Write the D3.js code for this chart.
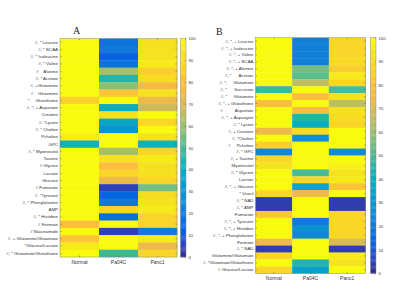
<!DOCTYPE html>
<html>
<head>
<meta charset="utf-8">
<script src="https://cdn.jsdelivr.net/npm/d3@7"></script>
<style>
  body { margin: 0; background: #fff; }
  svg { display: block; }
  .lbl { white-space: pre; }
</style>
</head>
<body>
<div id="chart"></div>
<script>
// 列（细胞系）
const groups = ['Normal', 'Pa04C', 'Panc1'];

// A 面板
const labelsA = [
  '#, * Leucine', '#, * BCAA', '#, * Isoleucine', '#, * Valine', '#    Alanine',
  '#, * Acetate', '#, +Glutamate', '#    Glutamine', '*     Glutathione', '#, *, + Aspartate',
  'Creatine', '#, *Lysine', '#, * Choline', 'Pcholine', 'GPC',
  '#, * Myoinositol', 'Taurine', '# Glycine', 'Lactate', 'Glucose',
  '# Fumarate', '#, *Tyrosine', '#, * Phenylalanine', 'AMP', '#, * Histidine',
  '# Formate', '# Niacinamide', '#, + Glutamine/Glutamate', '*Glucose/Lactate', '#, * Glutamate/Glutathione'
];
const normalA = [100, 100, 100, 100, 100, 100, 100, 100, 86, 100, 100, 100, 100, 96, 42,
  100, 100, 100, 100, 100, 100, 100, 100, 100, 100, 80, 100, 82, 95, 100];
const pa04cA = [18, 20, 13, 18, 62, 45, 58, 82, 100, 40, 92, 38, 27, 100, 100,
  62, 92, 80, 88, 75, 5, 14, 20, 88, 17, 100, 5, 100, 100, 48];
const panc1A = [92, 92, 93, 95, 85, 90, 77, 92, 75, 68, 100, 88, 100, 92, 42,
  88, 95, 92, 92, 87, 55, 90, 93, 95, 87, 87, 20, 95, 75, 88];

// B 面板
const labelsB = [
  '#, *, + Leucine', '#, *, + Isoleucine', '#, *, + Valine', '#, *, + BCAA', '#, *, + Alanine',
  '#, *      Acetate', '#, *,     Glutamate', '#, *      Succinate', '#, *     Glutamine', '#, *, + Glutathione',
  '#          Aspartate', '#, *, + Aspargine', '#, * Lysine', '#, + Creatine', '#, *Choline',
  '#     Pcholine', '#, * GPC', '#, + Taurine', 'Myoinositol', '#, * Glycine',
  'Lactate', '#, *, + Glucose', '* Uracil', '#, * NAD', '#, * AMP',
  'Fumarate', '#, *, + Tyrosine', '#, *, + Histidine', '#, *, + Phenylalanine', 'Formate',
  '#, * NAD', 'Glutamine/Glutamate', '#, *Glutamate/Glutathione', '# Glucose/Lactate'
];
const normalB = [100, 100, 100, 100, 100, 100, 100, 48, 100, 78, 100, 100, 100, 75, 100,
  85, 24, 88, 93, 100, 100, 100, 88, 4, 4, 83, 100, 100, 100, 75, 4, 88, 100, 87];
const pa04cB = [22, 22, 22, 22, 55, 52, 65, 100, 80, 100, 78, 45, 40, 90, 27,
  100, 100, 100, 100, 50, 88, 38, 75, 100, 100, 100, 20, 28, 25, 100, 100, 100, 45, 35];
const panc1B = [87, 88, 88, 90, 85, 95, 88, 50, 92, 65, 92, 90, 88, 100, 100,
  100, 26, 100, 97, 93, 95, 82, 100, 4, 4, 88, 88, 88, 88, 70, 4, 95, 93, 100];

const cbTicks = d3.range(0, 101, 10);

// parula 色标
const parulaStops = ['#352a87', '#2c4ac7', '#0363e1', '#1079da', '#108ed2', '#079ccf',
  '#0aacbe', '#2eb7a4', '#65be86', '#9cbf6f', '#c8bc5d', '#e9b94e', '#fdbe3d',
  '#fad32a', '#f5e41d', '#f9fb0e'];
const parula = d3.piecewise(d3.interpolateRgb, parulaStops);
const color = v => parula(Math.max(0, Math.min(1, v / 100)));

const svg = d3.select('#chart').append('svg')
  .attr('width', 400).attr('height', 300)
  .style('font-family', 'Liberation Sans, Arial, sans-serif');

function panel(o) {
  const rows = o.labels.map((l, i) => ({
    label: l, i, vals: [o.normal[i], o.pa04c[i], o.panc1[i]]
  }));
  const x = d3.scaleBand().domain(groups).range([o.x0, o.x1]);
  const y = d3.scaleBand().domain(d3.range(rows.length)).range([o.y0, o.y1]);

  const g = svg.append('g');

  // 单元格
  rows.forEach(r => {
    g.selectAll(null).data(groups).enter().append('rect')
      .attr('x', d => x(d))
      .attr('y', y(r.i))
      .attr('width', x.bandwidth() + 0.3)
      .attr('height', y.bandwidth() + 0.3)
      .attr('fill', (d, j) => color(r.vals[j]));
  });

  // 边框
  g.append('rect')
    .attr('x', o.x0).attr('y', o.y0)
    .attr('width', o.x1 - o.x0).attr('height', o.y1 - o.y0)
    .attr('fill', 'none').attr('stroke', '#8c8c8c').attr('stroke-width', 0.5);

  // 左轴
  const yAxis = d3.axisLeft(y).tickSize(-1.5).tickPadding(2).tickFormat(i => o.labels[i]);
  const ya = g.append('g').attr('transform', `translate(${o.x0},0)`).call(yAxis);
  ya.select('.domain').remove();
  ya.selectAll('line').attr('stroke', '#444').attr('stroke-width', 0.4);
  ya.selectAll('text').attr('class', 'lbl').attr('font-size', 4.4).attr('fill', '#333');

  // 右侧刻度
  const yr = g.append('g').attr('transform', `translate(${o.x1},0)`)
    .call(d3.axisRight(y).tickSize(-1.5).tickFormat(''));
  yr.select('.domain').remove();
  yr.selectAll('line').attr('stroke', '#444').attr('stroke-width', 0.4);

  // 下轴
  const xa = g.append('g').attr('transform', `translate(0,${o.y1})`)
    .call(d3.axisBottom(x).tickSize(-1.5).tickPadding(3));
  xa.select('.domain').remove();
  xa.selectAll('line').attr('stroke', '#444').attr('stroke-width', 0.4);
  xa.selectAll('text').attr('font-size', 5).attr('fill', '#333');

  const xt = g.append('g').attr('transform', `translate(0,${o.y0})`)
    .call(d3.axisTop(x).tickSize(-1.5).tickFormat(''));
  xt.select('.domain').remove();
  xt.selectAll('line').attr('stroke', '#444').attr('stroke-width', 0.4);

  // 标题
  g.append('text')
    .attr('x', o.titleX).attr('y', o.titleY)
    .attr('font-family', 'Liberation Serif, Times New Roman, serif')
    .attr('font-size', 10).attr('fill', '#222')
    .text(o.title);

  // 色条
  const cb = d3.scaleLinear().domain([0, 100]).range([o.y1, o.y0]);
  const cw = o.cbW;
  const grad = d3.range(0, 100, 0.5);
  g.selectAll(null).data(grad).enter().append('rect')
    .attr('x', o.cbX)
    .attr('y', d => cb(d + 0.5))
    .attr('width', cw)
    .attr('height', d => cb(d) - cb(d + 0.5) + 0.3)
    .attr('fill', d => color(d + 0.25));
  g.append('rect')
    .attr('x', o.cbX).attr('y', o.y0)
    .attr('width', cw).attr('height', o.y1 - o.y0)
    .attr('fill', 'none').attr('stroke', '#8c8c8c').attr('stroke-width', 0.5);
  const ca = g.append('g').attr('transform', `translate(${o.cbX + cw},0)`)
    .call(d3.axisRight(cb).tickValues(cbTicks).tickSize(-1.2).tickPadding(2.5));
  ca.select('.domain').remove();
  ca.selectAll('line').attr('stroke', '#444').attr('stroke-width', 0.4);
  ca.selectAll('text').attr('font-size', 4.2).attr('fill', '#333');
}

panel({
  title: 'A', titleX: 73, titleY: 34,
  labels: labelsA, normal: normalA, pa04c: pa04cA, panc1: panc1A,
  x0: 60, x1: 177, y0: 38.5, y1: 257,
  cbX: 180.5, cbW: 5.5
});

panel({
  title: 'B', titleX: 216, titleY: 35,
  labels: labelsB, normal: normalB, pa04c: pa04cB, panc1: panc1B,
  x0: 255.5, x1: 365.5, y0: 37.7, y1: 273.3,
  cbX: 370.5, cbW: 5.5
});
</script>
</body>
</html>
